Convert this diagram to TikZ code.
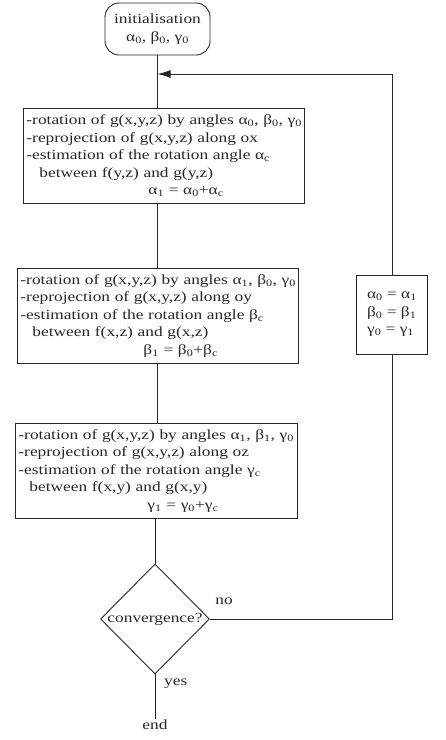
\documentclass[tikz,border=0pt]{standalone}
\usepackage{fontspec}
\setmainfont{Liberation Serif}[FakeStretch=1.24]
\usetikzlibrary{shapes.geometric,arrows.meta}
\newcommand{\sbs}[1]{\textsubscript{#1}}
\begin{document}
\begin{tikzpicture}[x=1pt,y=-1pt,
  font=\fontsize{14}{17.5}\selectfont,
  every node/.style={text=black!85},
  conn/.style={draw=black!85, line width=0.9pt},
  stepbox/.style={draw=black!85, line width=0.9pt, rectangle, align=left, inner sep=3pt, anchor=north west, minimum height=95pt},
  startbox/.style={draw=black!85, line width=0.9pt, rectangle, rounded corners=14pt, align=center, minimum width=105pt, minimum height=52pt, inner sep=2pt},
  decide/.style={draw=black!85, line width=0.9pt, diamond, minimum width=109pt, minimum height=110pt, inner sep=0pt},
  updbox/.style={draw=black!85, line width=0.9pt, rectangle, align=left, minimum width=71pt, minimum height=79pt, inner sep=3pt}]
\useasboundingbox (0,0) rectangle (446,740);

\node[startbox] (init) at (157.5,29) {initialisation\\α\sbs{0}, β\sbs{0}, γ\sbs{0}};

\node[stepbox, text width=275pt] (b1) at (23,108) {\mbox{-rotation of g(x,y,z) by angles α\sbs{0}, β\sbs{0}, γ\sbs{0}}\\
-reprojection of g(x,y,z) along ox\\
-estimation of the rotation angle α\sbs{c}\\
\hspace*{13pt}between f(y,z) and g(y,z)\\
\hspace*{122pt}α\sbs{1} = α\sbs{0}+α\sbs{c}};

\node[stepbox, text width=275pt] (b2) at (17,268) {\mbox{-rotation of g(x,y,z) by angles α\sbs{1}, β\sbs{0}, γ\sbs{0}}\\
-reprojection of g(x,y,z) along oy\\
-estimation of the rotation angle β\sbs{c}\\
\hspace*{12pt}between f(x,z) and g(x,z)\\
\hspace*{123pt}β\sbs{1} = β\sbs{0}+β\sbs{c}};

\node[stepbox, text width=276pt] (b3) at (15,423) {\mbox{-rotation of g(x,y,z) by angles α\sbs{1}, β\sbs{1}, γ\sbs{0}}\\
-reprojection of g(x,y,z) along oz\\
-estimation of the rotation angle γ\sbs{c}\\
\hspace*{11pt}between f(x,y) and g(x,y)\\
\hspace*{129pt}γ\sbs{1} = γ\sbs{0}+γ\sbs{c}};

\node[decide, label={center:convergence?}] (conv) at (155,619) {};

\node[updbox] (upd) at (392,314.5) {α\sbs{0} = α\sbs{1}\\β\sbs{0} = β\sbs{1}\\γ\sbs{0} = γ\sbs{1}};

\node[inner sep=1pt] (noL) at (224,601) {no};
\node[inner sep=1pt, anchor=west] (yesL) at (163,684) {yes};
\node[inner sep=1pt, anchor=north] (endN) at (155,719) {end};

\coordinate (join) at (157.5,74);

\draw[conn] (init.south) -- (b1.north -| init.south);
\draw[conn] (b1.south -| init.south) -- (b2.north -| init.south);
\draw[conn] (b2.south -| init.south) -- (b3.north -| init.south);
\draw[conn] (b3.south -| conv.north) -- (conv.north);
\draw[conn] (conv.south) -- (endN.north);
\draw[conn] (conv.east) -| (upd.south);
\draw[conn, -{Latex[length=13pt,width=8pt]}] (upd.north) |- (join);
\end{tikzpicture}
\end{document}
